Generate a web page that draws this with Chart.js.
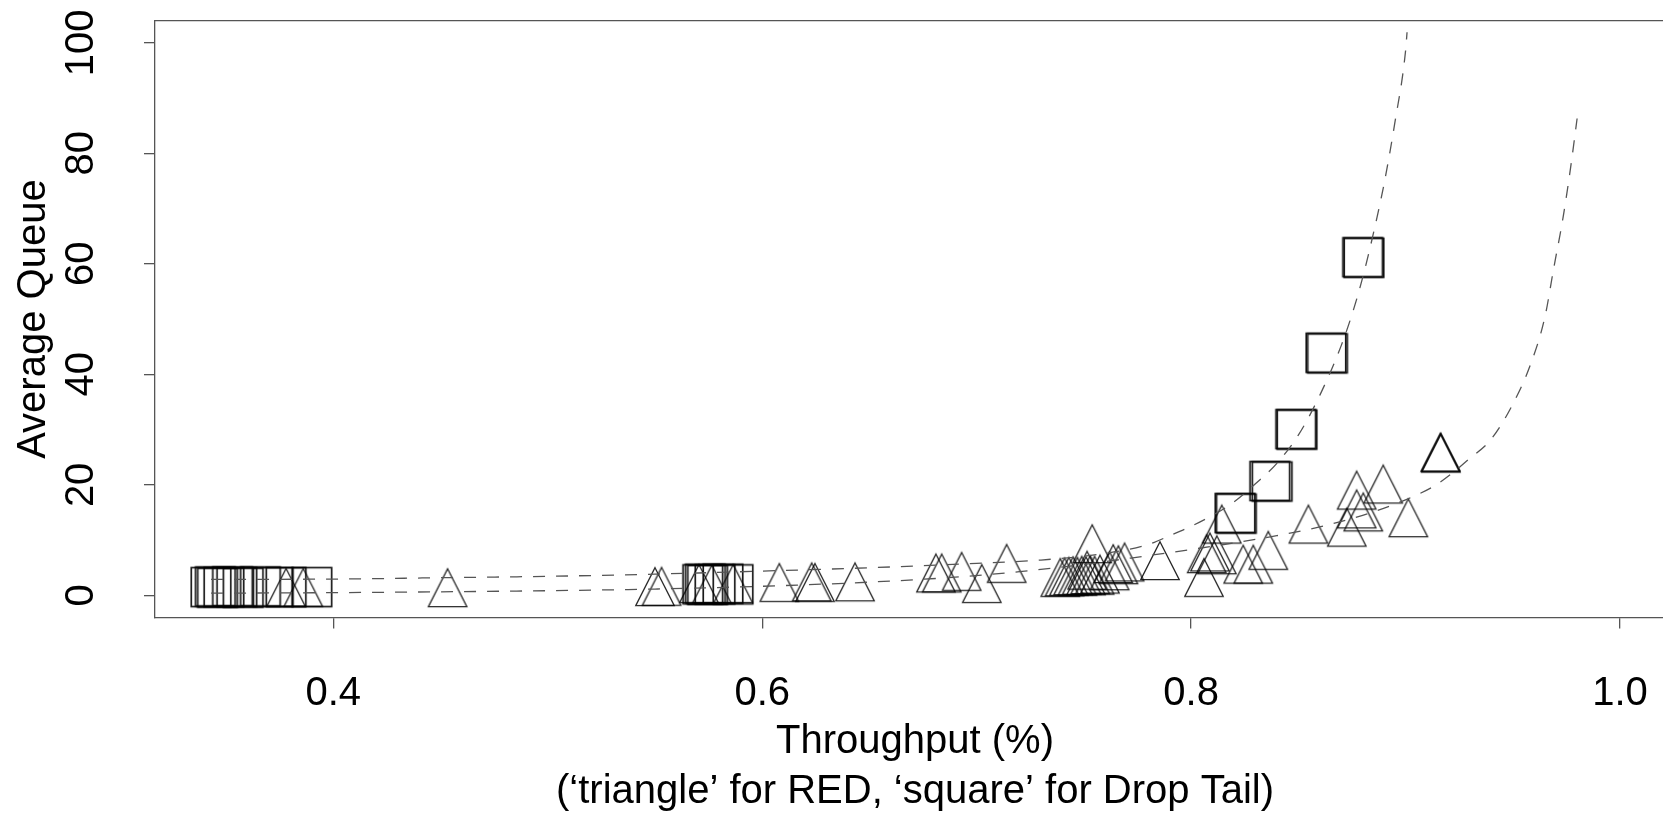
<!DOCTYPE html>
<html>
<head>
<meta charset="utf-8">
<title>Average Queue vs Throughput</title>
<script src="https://cdn.jsdelivr.net/npm/chart.js@4.4.1/dist/chart.umd.min.js"></script>
<style>
  html, body { margin: 0; padding: 0; background: #fff; overflow: hidden; }
  canvas { display: block; }
</style>
</head>
<body>
<!-- a bit wider than the window: the R box runs past the right edge of the picture -->
<canvas id="queueChart" width="1675" height="817"></canvas>
<script>
// Drop Tail (squares)
const dropTailX = [0.343, 0.345, 0.346, 0.349, 0.353, 0.355, 0.358, 0.366, 0.372, 0.378, 0.390,
                   0.5723, 0.5735, 0.5745, 0.578, 0.5817, 0.5864,
                   0.8205, 0.8211, 0.8367, 0.8378, 0.8488, 0.8494, 0.8629, 0.8636, 0.8800, 0.8806];
const dropTailY = [1.5, 1.6, 1.4, 1.5, 1.6, 1.5, 1.4, 1.6, 1.5, 1.5, 1.5,
                   2.0, 2.1, 1.9, 2.0, 2.1, 2.0,
                   14.9, 14.8, 20.7, 20.6, 30.1, 30.0, 43.9, 43.8, 61.2, 61.1];

// RED (triangles)
const redX = [0.378, 0.386, 0.4533, 0.550, 0.5531, 0.5705, 0.5765, 0.5865, 0.608, 0.6231, 0.6246,
              0.6433, 0.681, 0.6837, 0.693, 0.7024, 0.714,
              0.739, 0.741, 0.743, 0.745, 0.747, 0.749, 0.751, 0.753, 0.755, 0.7575,
              0.7539, 0.7515, 0.7637, 0.7661, 0.769, 0.762, 0.7855, 0.806, 0.8073, 0.8088, 0.812,
              0.8143, 0.8243, 0.829, 0.836, 0.8547, 0.8726, 0.8772, 0.8772, 0.8803, 0.8896, 0.9013,
              0.9162, 0.9165, 0.9164];
const redY = [0.3, 0.3, 0.25, 0.45, 0.5, 1.0, 0.9, 1.0, 1.2, 1.3, 1.2,
              1.3, 2.9, 2.9, 3.2, 1.0, 4.65,
              2.1, 2.2, 2.3, 2.4, 2.3, 2.5, 2.4, 2.6, 2.5, 2.7,
              8.2, 3.4, 4.6, 4.4, 4.9, 3.3, 5.15, 2.1, 6.4, 6.7, 6.2,
              11.75, 4.5, 4.5, 7.0, 11.75, 11.2, 17.9, 14.5, 13.95, 19.0, 12.9,
              24.7, 24.6, 24.8];

// dashed fitted curves
const dropTailCurveX = [0.343, 0.40, 0.45, 0.50, 0.55, 0.60, 0.65, 0.70, 0.73, 0.76, 0.78, 0.79, 0.80,
                        0.81, 0.82, 0.83, 0.84, 0.85, 0.86, 0.87, 0.875, 0.88, 0.885, 0.89, 0.895, 0.90, 0.9007];
const dropTailCurveY = [2.9, 2.95, 3.2, 3.45, 3.85, 4.4, 5.0, 5.8, 6.4, 7.6, 9.2, 10.8, 12.5,
                        14.5, 16.9, 20.2, 23.9, 29.0, 36.2, 45.2, 50.8, 57.5, 65.5, 74.5, 85.5, 98.5, 101.9];
const redCurveX = [0.343, 0.40, 0.45, 0.50, 0.55, 0.60, 0.65, 0.69, 0.72, 0.75, 0.78, 0.80, 0.82, 0.84,
                   0.86, 0.88, 0.90, 0.915, 0.93, 0.94, 0.95, 0.958, 0.965, 0.969, 0.9735, 0.977, 0.980];
const redCurveY = [0.4, 0.5, 0.65, 0.85, 1.15, 1.65, 2.4, 3.3, 4.3, 5.6, 7.2, 8.3, 9.5, 10.8,
                   12.4, 14.5, 17.3, 20.2, 24.8, 28.3, 34.6, 41.5, 50.4, 59.0, 68.5, 77.5, 86.3];

const xTickValues = [0.4, 0.6, 0.8, 1.0];
const yTickValues = [0, 20, 40, 60, 80, 100];

const fontFamily = "'Liberation Sans', Arial, Helvetica, sans-serif";
const axisColor = '#555';

function toPoints(xs, ys) {
    return xs.map((x, i) => ({ x: x, y: ys[i] }));
}

// R style open markers (pch 2 and pch 0)
function makeTriangle() {
    const c = document.createElement('canvas');
    c.width = 46; c.height = 60;
    const g = c.getContext('2d');
    g.strokeStyle = 'rgba(0,0,0,0.85)';
    g.lineWidth = 1.3;
    g.beginPath();
    g.moveTo(23, 30 - 25.3);
    g.lineTo(23 + 19.25, 30 + 12.7);
    g.lineTo(23 - 19.25, 30 + 12.7);
    g.closePath();
    g.stroke();
    return c;
}
function makeSquare() {
    const c = document.createElement('canvas');
    c.width = 46; c.height = 46;
    const g = c.getContext('2d');
    g.strokeStyle = 'rgba(0,0,0,0.9)';
    g.lineWidth = 1.7;
    g.strokeRect(23 - 19.75, 23 - 19.5, 39.5, 39);
    return c;
}

// top edge of the R box
const boxPlugin = {
    id: 'boxTop',
    afterDraw(chart) {
        const a = chart.chartArea;
        const ctx = chart.ctx;
        ctx.save();
        ctx.strokeStyle = axisColor;
        ctx.lineWidth = 1.3;
        ctx.beginPath();
        ctx.moveTo(a.left, a.top);
        ctx.lineTo(a.right, a.top);
        ctx.stroke();
        ctx.restore();
    }
};

document.addEventListener('DOMContentLoaded', function() {
    const ctx = document.getElementById('queueChart').getContext('2d');
    const triangle = makeTriangle();
    const square = makeSquare();

    const queueChart = new Chart(ctx, {
        type: 'scatter',
        data: {
            datasets: [{
                label: 'Drop Tail fit',
                data: toPoints(dropTailCurveX, dropTailCurveY),
                showLine: true,
                pointRadius: 0,
                borderColor: '#555',
                borderWidth: 1.3,
                borderDash: [12, 11],
                cubicInterpolationMode: 'monotone',
                fill: false
            }, {
                label: 'RED fit',
                data: toPoints(redCurveX, redCurveY),
                showLine: true,
                pointRadius: 0,
                borderColor: '#555',
                borderWidth: 1.3,
                borderDash: [12, 11],
                cubicInterpolationMode: 'monotone',
                fill: false
            }, {
                label: 'Drop Tail',
                data: toPoints(dropTailX, dropTailY),
                pointStyle: square,
                pointRadius: 20,
                showLine: false
            }, {
                label: 'RED',
                data: toPoints(redX, redY),
                pointStyle: triangle,
                pointRadius: 20,
                showLine: false
            }]
        },
        options: {
            responsive: false,
            animation: false,
            devicePixelRatio: 1,
            layout: {
                autoPadding: false,
                padding: { top: 20.7, left: 0, right: 0, bottom: 0 }
            },
            plugins: {
                legend: { display: false },
                tooltip: { enabled: false }
            },
            scales: {
                x: {
                    type: 'linear',
                    position: 'bottom',
                    min: 0.31686,
                    max: 1.02565,
                    afterBuildTicks: function(scale) {
                        scale.ticks = xTickValues.map(v => ({ value: v }));
                    },
                    afterFit: function(scale) {
                        scale.height = 199.5;
                        scale.paddingLeft = 0;
                        scale.paddingRight = 0;
                    },
                    ticks: {
                        color: '#000',
                        font: { family: fontFamily, size: 40, lineHeight: '131.8px' },
                        padding: 0,
                        maxRotation: 0,
                        autoSkip: false,
                        callback: v => Number(v).toFixed(1)
                    },
                    grid: {
                        drawOnChartArea: false,
                        drawTicks: true,
                        tickLength: 11,
                        color: axisColor,
                        lineWidth: 1.3
                    },
                    border: { display: true, color: axisColor, width: 1.3 },
                    title: {
                        display: true,
                        text: ['Throughput (%)', '(\u2018triangle\u2019 for RED, \u2018square\u2019 for Drop Tail)'],
                        color: '#000',
                        font: { family: fontFamily, size: 40, lineHeight: '50px' },
                        padding: { top: 0, bottom: 0 }
                    }
                },
                y: {
                    type: 'linear',
                    min: -4,
                    max: 104,
                    afterBuildTicks: function(scale) {
                        scale.ticks = yTickValues.map(v => ({ value: v }));
                    },
                    afterFit: function(scale) {
                        scale.width = 155;
                        scale.paddingTop = 0;
                        scale.paddingBottom = 0;
                    },
                    ticks: {
                        color: '#000',
                        font: { family: fontFamily, size: 40 },
                        minRotation: 90,
                        maxRotation: 90,
                        crossAlign: 'center',
                        padding: 28.5,
                        autoSkip: false,
                        callback: v => String(v)
                    },
                    grid: {
                        drawOnChartArea: false,
                        drawTicks: true,
                        tickLength: 11,
                        color: axisColor,
                        lineWidth: 1.3
                    },
                    border: { display: true, color: axisColor, width: 1.3 },
                    title: {
                        display: true,
                        text: 'Average Queue',
                        color: '#000',
                        font: { family: fontFamily, size: 40 },
                        padding: { top: 10, bottom: 0 }
                    }
                }
            }
        },
        plugins: [boxPlugin]
    });
});
</script>
</body>
</html>
